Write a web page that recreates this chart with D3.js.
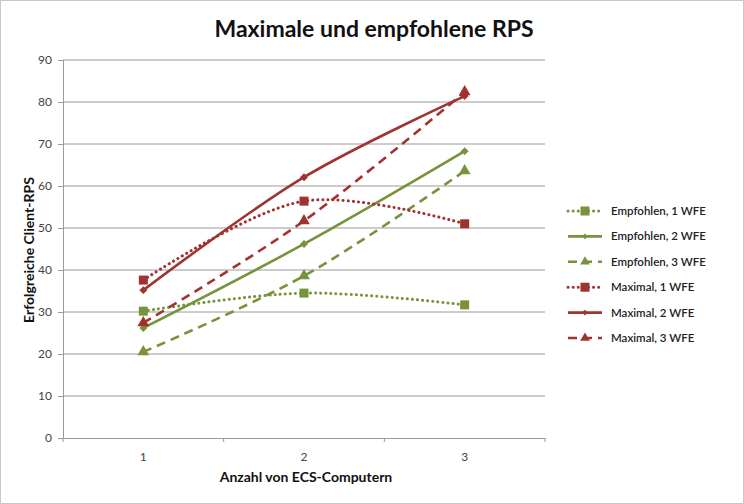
<!DOCTYPE html>
<html><head><meta charset="utf-8">
<script src="https://cdn.jsdelivr.net/npm/d3@7"></script>
<style>body{margin:0;background:#fff}svg{display:block}</style>
</head><body>
<script>
const categories = ["1", "2", "3"];
const seriesNames = ["Empfohlen, 1 WFE","Empfohlen, 2 WFE","Empfohlen, 3 WFE","Maximal, 1 WFE","Maximal, 2 WFE","Maximal, 3 WFE"];
const empfohlen1 = [30.2, 34.5, 31.7];
const empfohlen2 = [26.2, 46.2, 68.3];
const empfohlen3 = [20.5, 38.6, 63.6];
const maximal1 = [37.6, 56.4, 51.0];
const maximal2 = [35.2, 62.1, 81.4];
const maximal3 = [27.4, 51.7, 82.4];
const yTicks = [0,10,20,30,40,50,60,70,80,90];

const green = "#77933C", red = "#A0332F";
const styles = [
  {c:green, dash:"0.1,5", marker:"square", cap:"round"},
  {c:green, dash:null, marker:"diamond", cap:"butt"},
  {c:green, dash:"9,6", marker:"triangle", cap:"butt"},
  {c:red, dash:"0.1,5", marker:"square", cap:"round"},
  {c:red, dash:null, marker:"diamond", cap:"butt"},
  {c:red, dash:"9,6", marker:"triangle", cap:"butt"}
];
const allValues = [empfohlen1, empfohlen2, empfohlen3, maximal1, maximal2, maximal3];

const W=744,H=504;
const svg = d3.select("body").append("svg").attr("width",W).attr("height",H);
svg.append("rect").attr("x",0.5).attr("y",0.5).attr("width",W-1).attr("height",H-1)
  .attr("fill","#fff").attr("stroke","#c8c8c8");

const pL=63,pR=545,pT=60,pB=438;
const x = d3.scaleBand().domain(categories).range([pL,pR]);
const y = d3.scaleLinear().domain([0,90]).range([pB,pT]);
const font = "Lato, 'Open Sans', sans-serif";

svg.append("text").attr("x",374).attr("y",37).attr("text-anchor","middle")
  .attr("font-family",font).attr("font-weight","bold").attr("font-size",23).attr("fill","#111")
  .text("Maximale und empfohlene RPS");

// gridlines
svg.append("g").selectAll("line").data(yTicks.slice(1)).join("line")
  .attr("x1",pL).attr("x2",pR).attr("y1",d=>y(d)).attr("y2",d=>y(d))
  .attr("stroke","#9a9a9a").attr("stroke-width",1);

// y axis
const ya = svg.append("g").attr("transform",`translate(${pL},0)`)
  .call(d3.axisLeft(y).tickValues(yTicks).tickSize(5).tickPadding(6));
ya.select(".domain").attr("stroke","#9a9a9a");
ya.selectAll(".tick line").attr("stroke","#9a9a9a");
ya.selectAll("text").attr("font-family",font).attr("font-size",12).attr("fill","#444");

// x axis
const xa = svg.append("g").attr("transform",`translate(0,${pB})`)
  .call(d3.axisBottom(x).tickSize(0).tickPadding(14));
xa.select(".domain").attr("stroke","#9a9a9a");
xa.selectAll("text").attr("font-family",font).attr("font-size",12).attr("fill","#444");
const bounds = categories.map(c=>x(c)).concat([x(categories[categories.length-1])+x.bandwidth()]);
xa.selectAll("line.bt").data(bounds).join("line").attr("class","bt")
  .attr("x1",d=>d).attr("x2",d=>d).attr("y1",0).attr("y2",4).attr("stroke","#9a9a9a");

svg.append("text").attr("x",306).attr("y",482).attr("text-anchor","middle")
  .attr("font-family",font).attr("font-weight","bold").attr("font-size",14).attr("fill","#111")
  .text("Anzahl von ECS-Computern");
svg.append("text").attr("transform","translate(34,250) rotate(-90)").attr("text-anchor","middle")
  .attr("font-family",font).attr("font-weight","bold").attr("font-size",14).attr("fill","#111")
  .text("Erfolgreiche Client-RPS");

const cx = c => x(c)+x.bandwidth()/2;
const line = d3.line().x((d,i)=>cx(categories[i])).y(d=>y(d)).curve(d3.curveCatmullRom.alpha(0.5));

function marker(g, type, color, px, py, s){
  if(type==="square") g.append("rect").attr("x",px-4.5).attr("y",py-4.5).attr("width",9).attr("height",9).attr("fill",color);
  else if(type==="diamond") g.append("path").attr("d",d3.symbol(d3.symbolDiamond2, s||40)()).attr("transform",`translate(${px},${py})`).attr("fill",color);
  else g.append("path").attr("d",d3.symbol(d3.symbolTriangle, s||60)()).attr("transform",`translate(${px},${py})`).attr("fill",color);
}

allValues.forEach((vals,k)=>{
  const st = styles[k];
  const g = svg.append("g");
  g.append("path").attr("d",line(vals)).attr("fill","none").attr("stroke",st.c)
    .attr("stroke-width",st.dash && st.cap==="round" ? 3 : 2.6).attr("stroke-dasharray",st.dash)
    .attr("stroke-linecap",st.cap);
  vals.forEach((v,i)=>marker(g, st.marker, st.c, cx(categories[i]), y(v)));
});

// legend
const lg = svg.append("g");
seriesNames.forEach((n,k)=>{
  const st = styles[k];
  const yy = 211 + k*25.4;
  lg.append("line").attr("x1",568).attr("x2",602).attr("y1",yy).attr("y2",yy).attr("stroke",st.c)
    .attr("stroke-width",st.dash && st.cap==="round" ? 3 : 2.6).attr("stroke-dasharray",st.dash).attr("stroke-linecap",st.cap);
  marker(lg, st.marker, st.c, 585, yy, st.marker==="diamond"?22:40);
  lg.append("text").attr("x",611).attr("y",yy+4).attr("font-family",font).attr("font-size",11.5)
    .attr("font-weight",600).attr("fill","#222").text(n);
});
</script>
</body></html>
